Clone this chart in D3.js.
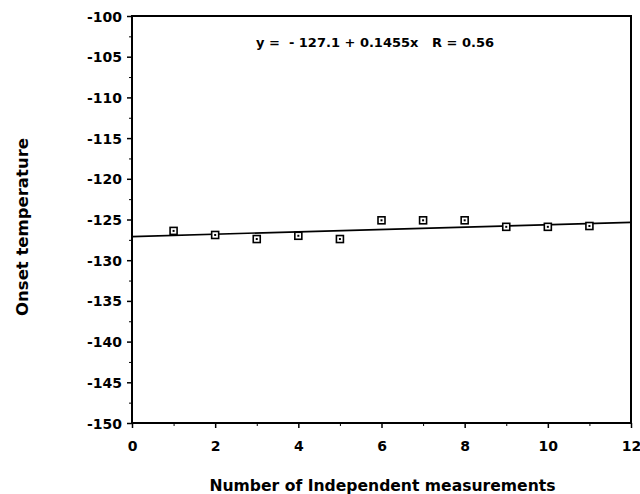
<!DOCTYPE html>
<html>
<head>
<meta charset="utf-8">
<script src="https://cdn.jsdelivr.net/npm/d3@7"></script>
<style>
  body { margin: 0; background: #fff; }
  text { font-family: "DejaVu Sans", sans-serif; font-weight: bold; fill: #000; }
</style>
</head>
<body>
<div id="chart"></div>
<script>
const counts = [1, 2, 3, 4, 5, 6, 7, 8, 9, 10, 11];
const onset = [-126.4, -126.9, -127.4, -127.0, -127.4, -125.1, -125.1, -125.1, -125.9, -125.9, -125.8];

// fitted line as printed on the chart
const intercept = -127.1,
    slope = 0.1455,
    rValue = 0.56;

const xTicks = [0, 2, 4, 6, 8, 10, 12];
const yTicks = [-100, -105, -110, -115, -120, -125, -130, -135, -140, -145, -150];

const width = 640,
    height = 494;

const margin = {top: 16, right: 9, bottom: 71, left: 132};

const svg = d3.select("#chart").append("svg")
    .attr("width", width)
    .attr("height", height);

const x = d3.scaleLinear().domain([0, 12]).range([margin.left, width - margin.right]);
const y = d3.scaleLinear().domain([-150, -100]).range([height - margin.bottom, margin.top]);

// minor ticks between the labelled ones
const xMinor = d3.range(1, 12, 2);
const yMinor = d3.range(-147.5, -100, 5);

let g = svg.append("g");

g.append("g")
    .attr("transform", `translate(0,${y(-150)})`)
    .call(d3.axisBottom(x).tickValues(xTicks).tickFormat(d3.format("d")).tickSize(5).tickPadding(13))
    .call(a => a.select(".domain").remove())
    .call(a => a.selectAll("line").attr("stroke-width", 1.5))
    .call(a => a.selectAll("text").attr("font-size", 14));

g.append("g")
    .attr("transform", `translate(0,${y(-150)})`)
    .call(d3.axisBottom(x).tickValues(xMinor).tickFormat("").tickSize(3))
    .call(a => a.select(".domain").remove());

g.append("g")
    .attr("transform", `translate(${x(0)},0)`)
    .call(d3.axisLeft(y).tickValues(yTicks).tickFormat(d => "-" + Math.abs(d)).tickSize(5).tickPadding(5))
    .call(a => a.select(".domain").remove())
    .call(a => a.selectAll("line").attr("stroke-width", 1.5))
    .call(a => a.selectAll("text").attr("font-size", 14).attr("dy", "0.36em"));

g.append("g")
    .attr("transform", `translate(${x(0)},0)`)
    .call(d3.axisLeft(y).tickValues(yMinor).tickFormat("").tickSize(3))
    .call(a => a.select(".domain").remove());

// frame
g.append("rect")
    .attr("x", x(0))
    .attr("y", y(-100))
    .attr("width", x(12) - x(0))
    .attr("height", y(-150) - y(-100))
    .attr("fill", "none")
    .attr("stroke", "#000")
    .attr("stroke-width", 2);

// regression line
g.append("line")
    .attr("x1", x(0))
    .attr("y1", y(intercept))
    .attr("x2", x(12))
    .attr("y2", y(intercept + slope * 12))
    .attr("stroke", "#000")
    .attr("stroke-width", 1.6);

// data squares
const pts = counts.map((c, i) => ({c: c, v: onset[i]}));
const s = 7;
g.selectAll(".pt").data(pts).enter().append("rect")
    .attr("class", "pt")
    .attr("x", d => x(d.c) - s / 2)
    .attr("y", d => y(d.v) - s / 2)
    .attr("width", s)
    .attr("height", s)
    .attr("fill", "#fff")
    .attr("stroke", "#000")
    .attr("stroke-width", 1.6);
g.selectAll(".dot").data(pts).enter().append("rect")
    .attr("class", "dot")
    .attr("x", d => x(d.c) - 1)
    .attr("y", d => y(d.v) - 1)
    .attr("width", 2)
    .attr("height", 2)
    .attr("fill", "#000");

// equation
g.append("text")
    .attr("x", 375)
    .attr("y", y(-103.8))
    .attr("text-anchor", "middle")
    .attr("font-size", 13)
    .attr("xml:space", "preserve")
    .text(`y =  - ${Math.abs(intercept)} + ${slope}x   R = ${rValue}`);

// axis titles
g.append("text")
    .attr("x", (x(0) + x(12)) / 2 + 1)
    .attr("y", 491)
    .attr("text-anchor", "middle")
    .attr("font-size", 15.6)
    .text("Number of Independent measurements");

g.append("text")
    .attr("transform", `translate(28,227) rotate(-90)`)
    .attr("text-anchor", "middle")
    .attr("font-size", 16.5)
    .text("Onset temperature");
</script>
</body>
</html>
